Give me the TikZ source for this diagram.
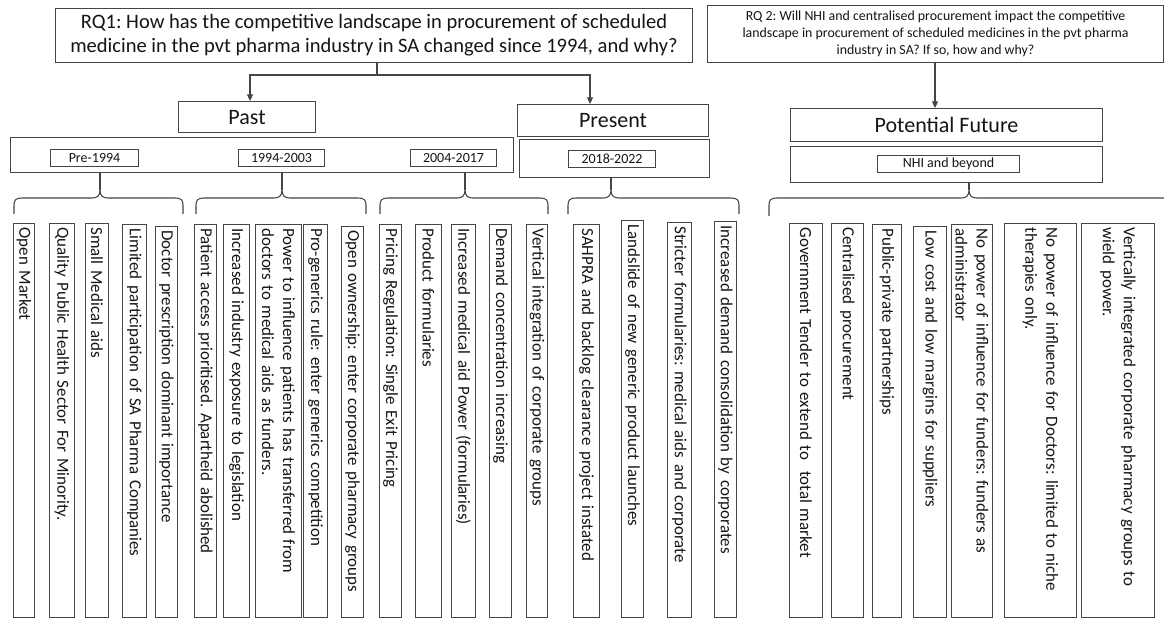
\documentclass[tikz,border=0pt]{standalone}
\usepackage{fontspec}
\setmainfont{Carlito}
\usetikzlibrary{arrows.meta}
\definecolor{ln}{HTML}{454545}
\definecolor{tx}{HTML}{151515}
\frenchspacing

% box given by its corners (x1,y1) (x2,y2), in pixel units
\newcommand\rectnode[7]{%
  \node[box, font=#6, anchor=north west,
        minimum width={(#4-#2)*0.75pt}, minimum height={(#5-#3)*0.75pt}]
        (#1) at (#2,#3) {#7};}

% tall column with text read from top to bottom: name, left, top, width, text
\newcommand\colnode[5]{%
  \pgfmathsetmacro\colw{(617-#3-8)*0.75}%
  \node[colbox, text width=\colw pt, minimum height={#4*0.75pt}]
        (#1) at (#2+#4,#3) {#5};}

% curly brace: left x, right x, tip x, arm y, end y
\newcommand\bracedraw[5]{%
  \draw[brace] (#1,#5) -- (#1,#4+7) .. controls (#1,#4+2) and (#1+2,#4) .. (#1+8,#4)
    -- (#3-8,#4) .. controls (#3-3,#4) and (#3,#4-2) .. (#3,#4-8)
    .. controls (#3,#4-2) and (#3+3,#4) .. (#3+8,#4)
    -- (#2-8,#4) .. controls (#2-2,#4) and (#2,#4+2) .. (#2,#4+7) -- (#2,#5);}

\begin{document}
\begin{tikzpicture}[x=0.75pt,y=-0.75pt,
  box/.style={draw=ln, line width=0.8pt, inner sep=2pt, align=center, text=tx},
  colbox/.style={draw=ln, line width=0.8pt, text=tx, rotate=-90, anchor=north west,
    align=left, inner xsep=3pt, inner ysep=1pt,
    font=\fontsize{12.7}{15.8}\selectfont},
  link/.style={draw=ln, line width=0.8pt},
  arr/.style={link, -{Triangle[length=5pt,width=4.5pt]}},
  brace/.style={draw=ln, line width=0.8pt, line join=round}
]
\useasboundingbox (0,0) rectangle (1164,620);
\fill[white] (0,0) rectangle (1164,620);

% research questions
\rectnode{rq1}{55}{8}{692}{62}{\fontsize{15.4}{18}\selectfont}
  {RQ1: How has the competitive landscape in procurement of scheduled\\
   medicine in the pvt pharma industry in SA changed since 1994, and why?}
\rectnode{rq2}{707}{5}{1163}{62}{\fontsize{10.4}{12.8}\selectfont}
  {RQ 2: Will NHI and centralised procurement impact the competitive\\
   landscape in procurement of scheduled medicines in the pvt pharma\\
   industry in SA? If so, how and why?}

% periods
\rectnode{past}{178}{101}{315}{132}{\fontsize{16.5}{19}\selectfont}{Past}
\rectnode{present}{517}{104}{708}{136}{\fontsize{16.5}{19}\selectfont}{Present}
\rectnode{future}{790}{108}{1102}{141}{\fontsize{16.5}{19}\selectfont}{Potential Future}

% period bands with their date labels
\rectnode{pastband}{10}{137}{513}{172}{}{}
\rectnode{presband}{519}{139}{709}{177}{}{}
\rectnode{futband}{790}{146}{1102}{182}{}{}
\rectnode{pre}{50}{149}{138}{166}{\fontsize{10.5}{12}\selectfont}{Pre-1994}
\rectnode{mid}{238}{149}{324}{166}{\fontsize{10.5}{12}\selectfont}{1994-2003}
\rectnode{late}{410}{149}{496}{166}{\fontsize{10.5}{12}\selectfont}{2004-2017}
\rectnode{now}{568}{150}{655}{167}{\fontsize{10.5}{12}\selectfont}{2018-2022}
\rectnode{nhi}{877}{155}{1019}{172}{\fontsize{10.5}{12}\selectfont}{NHI and beyond}

% question to period arrows
\coordinate (split) at (377,75);
\draw[link] (rq1.south -| split) -- (split);
\draw[arr] (split) -| (past.north -| 250,0);
\draw[arr] (split) -| (present.north -| 590,0);
\draw[arr] (rq2.south -| 935,0) -- (future.north -| 935,0);

% braces below the bands
\bracedraw{14}{183}{100}{198}{214}
\bracedraw{196}{366}{282}{198}{214}
\bracedraw{380}{548}{465}{198}{214}
\bracedraw{568}{739}{611}{198}{214}
\bracedraw{769}{1185}{969}{198}{216}
\coordinate (t1) at (100,190);
\coordinate (t2) at (282,190);
\coordinate (t3) at (465,190);
\coordinate (t4) at (611,190);
\coordinate (t5) at (969,190);
\draw[link] (pastband.south -| t1) -- (t1);
\draw[link] (pastband.south -| t2) -- (t2);
\draw[link] (pastband.south -| t3) -- (t3);
\draw[link] (presband.south -| t4) -- (t4);
\draw[link] (futband.south -| t5) -- (t5);

% Pre-1994
\colnode{c1}{14}{223}{21}{Open Market}
\colnode{c2}{50}{223}{25}{Quality Public Health Sector For Minority.}
\colnode{c3}{86}{223}{23}{Small Medical aids}
\colnode{c4}{123}{224}{24}{Limited participation of SA Pharma Companies}
\colnode{c5}{156}{226}{22}{Doctor prescription dominant importance}
% 1994-2003
\colnode{c6}{195}{224}{22}{Patient access prioritised. Apartheid abolished}
\colnode{c7}{224}{224}{26}{Increased industry exposure to legislation}
\colnode{c8}{256}{224}{46}{Power to influence patients has transferred from\\doctors to medical aids as funders.}
\colnode{c9}{304}{224}{24}{Pro-generics rule: enter generics competition}
\colnode{c10}{342}{226}{22}{Open ownership: enter corporate pharmacy groups}
% 2004-2017
\colnode{c11}{380}{224}{22}{Pricing Regulation: Single Exit Pricing}
\colnode{c12}{416}{224}{26}{Product formularies}
\colnode{c13}{452}{224}{24}{Increased medical aid Power (formularies)}
\colnode{c14}{490}{224}{22}{Demand concentration increasing}
\colnode{c15}{527}{224}{21}{Vertical integration of corporate groups}
% 2018-2022
\colnode{c16}{574}{224}{26}{SAHPRA and backlog clearance project instated}
\colnode{c17}{622}{220}{22}{Landslide of new generic product launches}
\colnode{c18}{668}{222}{24}{Stricter formularies: medical aids and corporate}
\colnode{c19}{715}{221}{22}{Increased demand consolidation by corporates}
% NHI and beyond
\colnode{c20}{790}{223}{33}{Government Tender to extend to\ \ total market}
\colnode{c21}{832}{223}{32}{Centralised procurement}
\colnode{c22}{873}{224}{29}{Public-private partnerships}
\colnode{c23}{914}{226}{33}{Low cost and low margins for suppliers}
\colnode{c24}{952}{224}{41}{No power of influence for funders: funders as\\administrator}
\colnode{c25}{1005}{223}{72}{No power of influence for Doctors: limited to niche\\therapies only.}
\colnode{c26}{1082}{223}{73}{Vertically integrated corporate pharmacy groups to\\wield power.}
\end{tikzpicture}
\end{document}
